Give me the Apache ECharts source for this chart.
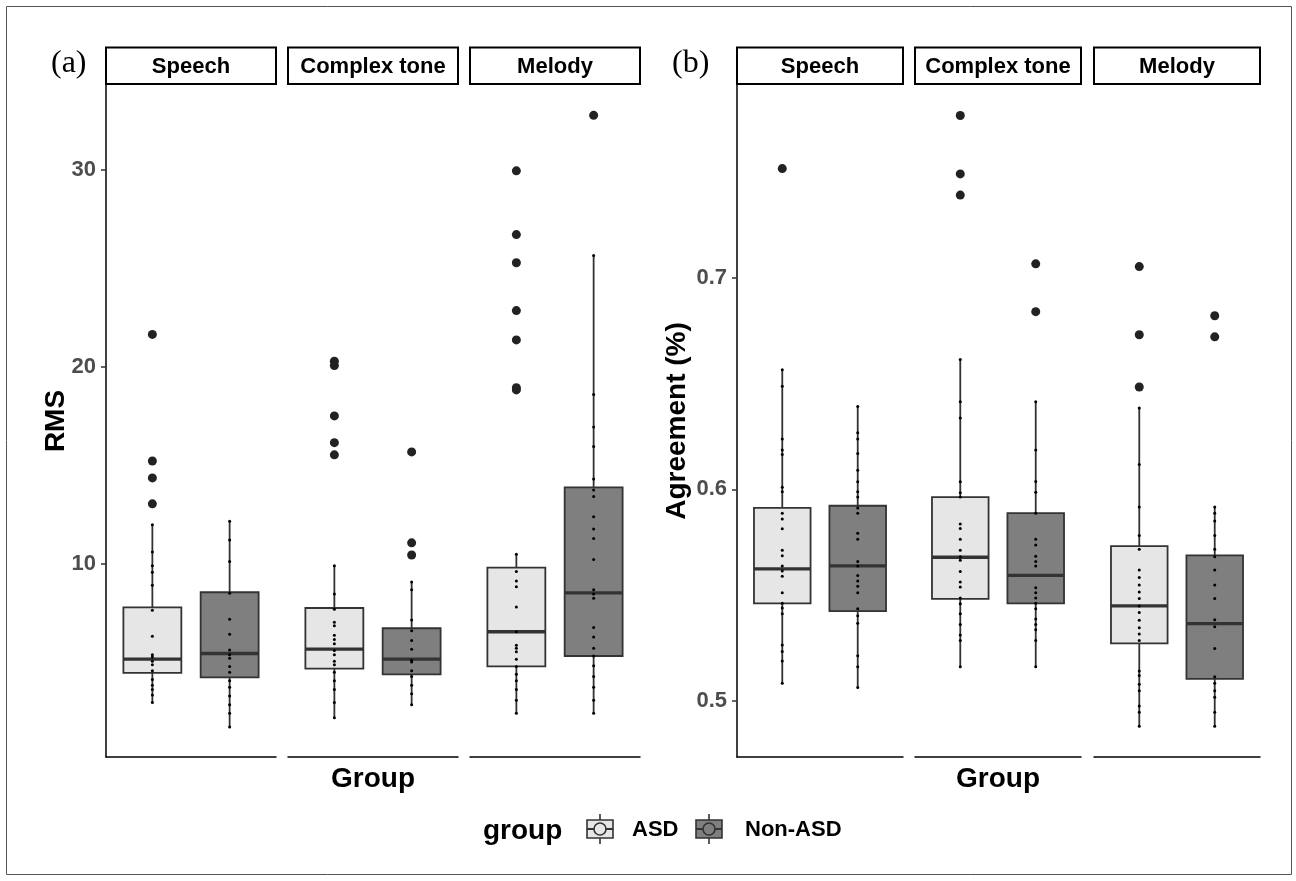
<!DOCTYPE html>
<html><head><meta charset="utf-8">
<script src="https://cdn.jsdelivr.net/npm/echarts@6/dist/echarts.min.js"></script>
<style>html,body{margin:0;padding:0;background:#fff}#c{width:1296px;height:881px}</style>
</head><body><div id="c"></div>
<script>
// ---------- data ----------
const facets = ['Speech', 'Complex tone', 'Melody'];
const groups = ['ASD', 'Non-ASD'];
const groupX = [1, 2];
const rmsTicks = [10, 20, 30];
const agreeTicks = [0.5, 0.6, 0.7];

// box stats per facet: [lower whisker, Q1, median, Q3, upper whisker]
const rmsBoxASD = [[2.95, 4.45, 5.15, 7.78, 11.98], [2.18, 4.67, 5.66, 7.75, 9.89], [2.40, 4.78, 6.54, 9.80, 10.48]];
const rmsBoxNonASD = [[1.70, 4.23, 5.44, 8.55, 12.16], [2.84, 4.38, 5.15, 6.72, 9.07], [2.40, 5.31, 8.52, 13.88, 25.66]];
const rmsOutASD = [[21.65, 15.22, 14.36, 13.04], [20.29, 20.07, 17.51, 16.15, 15.53], [29.96, 26.72, 25.29, 22.86, 21.37, 18.94, 18.83]];
const rmsOutNonASD = [[], [15.68, 11.06, 10.44], [32.78]];
const rmsDotsASD = [
  [11.98, 10.6, 9.89, 9.56, 8.9, 7.64, 6.32, 5.37, 5.26, 5.04, 4.87, 4.56, 4.12, 3.83, 3.61, 3.33, 2.95],
  [9.89, 8.46, 7.69, 7.03, 6.85, 6.37, 6.15, 5.93, 5.59, 5.37, 5.04, 4.87, 4.49, 4.05, 3.61, 2.95, 2.18],
  [10.48, 9.60, 9.12, 8.83, 7.80, 6.54, 5.86, 5.70, 5.53, 5.15, 4.78, 4.38, 4.05, 3.61, 3.06, 2.40]
];
const rmsDotsNonASD = [
  [12.16, 11.2, 10.11, 8.5, 7.18, 6.41, 5.62, 5.37, 5.2, 4.78, 4.49, 4.05, 3.72, 3.28, 2.84, 2.4, 1.70],
  [9.07, 8.68, 7.14, 6.59, 6.10, 5.66, 5.09, 5.0, 4.56, 4.27, 3.83, 3.39, 2.84],
  [25.66, 18.59, 16.94, 15.95, 14.30, 13.74, 13.41, 12.38, 11.76, 11.28, 10.22, 8.68, 8.46, 8.24, 6.76, 6.28, 5.70, 5.31, 4.82, 4.27, 3.72, 3.06, 2.40]
];

const agreeBoxASD = [[0.5083, 0.5461, 0.5624, 0.5912, 0.6565], [0.5161, 0.5482, 0.5679, 0.5963, 0.6613], [0.4880, 0.5272, 0.5449, 0.5731, 0.6384]];
const agreeBoxNonASD = [[0.5063, 0.5424, 0.5638, 0.5922, 0.6391], [0.5161, 0.5461, 0.5593, 0.5887, 0.6413], [0.4880, 0.5104, 0.5365, 0.5688, 0.5916]];
const agreeOutASD = [[0.7515], [0.7766, 0.749, 0.739], [0.7052, 0.673, 0.6483]];
const agreeOutNonASD = [[], [0.7065, 0.6839], [0.682, 0.672]];
const agreeDotsASD = [
  [0.6565, 0.6487, 0.6238, 0.6185, 0.6164, 0.601, 0.5988, 0.5887, 0.586, 0.5813, 0.5712, 0.5686, 0.5638, 0.5614, 0.5589, 0.5511, 0.5461, 0.5439, 0.5412, 0.5264, 0.5233, 0.5188, 0.5083],
  [0.6613, 0.6413, 0.6337, 0.6035, 0.5984, 0.5963, 0.5836, 0.5815, 0.5764, 0.5712, 0.5681, 0.5665, 0.5612, 0.5562, 0.5538, 0.5486, 0.5459, 0.5412, 0.5361, 0.5311, 0.5285, 0.5161],
  [0.6384, 0.6117, 0.5916, 0.5782, 0.5716, 0.5618, 0.5583, 0.5548, 0.5515, 0.5484, 0.5449, 0.5418, 0.5381, 0.5346, 0.5316, 0.5285, 0.5141, 0.512, 0.5079, 0.5048, 0.4976, 0.4946, 0.488]
];
const agreeDotsNonASD = [
  [0.6391, 0.6267, 0.6238, 0.6169, 0.609, 0.6035, 0.5988, 0.5963, 0.5912, 0.5887, 0.5792, 0.5764, 0.5659, 0.5638, 0.5593, 0.5566, 0.5542, 0.5511, 0.5435, 0.5402, 0.5367, 0.5213, 0.5161, 0.5063],
  [0.6413, 0.6185, 0.6037, 0.5986, 0.5887, 0.5764, 0.5737, 0.5683, 0.5659, 0.5638, 0.5535, 0.5511, 0.5486, 0.5461, 0.5435, 0.5387, 0.5361, 0.5336, 0.5285, 0.5161],
  [0.5916, 0.5887, 0.585, 0.5782, 0.5716, 0.5681, 0.5618, 0.5548, 0.5484, 0.5383, 0.535, 0.5248, 0.5114, 0.5083, 0.5048, 0.5017, 0.4946, 0.488]
];

// ---------- layout / style ----------
const FONT = "'Liberation Sans', Arial, sans-serif";
const SERIF = "'Liberation Serif', 'Times New Roman', serif";
const TOP = 85, H = 672;
const fills = ['#e6e6e6', '#7f7f7f'];
const STROKE = '#333333';

const panels = [
  { lefts: [106, 288, 470], width: 170, min: 0.18, max: 34.32, ticks: rmsTicks, title: 'RMS', nameGap: 36,
    box: [rmsBoxASD, rmsBoxNonASD], out: [rmsOutASD, rmsOutNonASD], dots: [rmsDotsASD, rmsDotsNonASD], tag: '(a)', tagX: 51 },
  { lefts: [737, 915, 1094], width: 166, min: 0.4735, max: 0.791, ticks: agreeTicks, title: 'Agreement (%)', nameGap: 46,
    box: [agreeBoxASD, agreeBoxNonASD], out: [agreeOutASD, agreeOutNonASD], dots: [agreeDotsASD, agreeDotsNonASD], tag: '(b)', tagX: 672 }
];

const grid = [], xAxis = [], yAxis = [], series = [], graphic = [];

graphic.push({ type: 'rect', silent: true, shape: { x: 6.5, y: 6.5, width: 1285, height: 868 },
  style: { fill: 'none', stroke: '#555', lineWidth: 1 } });

panels.forEach((p, pi) => {
  graphic.push({ type: 'text', silent: true, style: { text: p.tag, x: p.tagX, y: 64, font: '32px ' + SERIF, fill: '#000', textVerticalAlign: 'middle' } });
  p.lefts.forEach((left, fi) => {
    const gi = pi * 3 + fi;
    grid.push({ left: left, top: TOP, width: p.width, height: H, outerBoundsMode: 'none' });
    xAxis.push({
      gridIndex: gi, type: 'value', min: 0.4, max: 2.6,
      axisLine: { show: true, onZero: false, lineStyle: { color: '#000', width: 1.5 } },
      axisTick: { show: false }, axisLabel: { show: false }, splitLine: { show: false },
      name: fi === 1 ? 'Group' : '', nameLocation: 'middle', nameGap: 8, nameMoveOverlap: false,
      nameTextStyle: { fontFamily: FONT, fontWeight: 'bold', fontSize: 28, color: '#000' }
    });
    yAxis.push({
      gridIndex: gi, type: 'value', min: p.min, max: p.max, show: fi === 0,
      axisLine: { show: true, lineStyle: { color: '#000', width: 1.5 } },
      axisTick: { show: true, length: 5, customValues: p.ticks, lineStyle: { color: '#333', width: 1.5 } },
      axisLabel: { customValues: p.ticks, margin: 10, fontFamily: FONT, fontWeight: 'bold', fontSize: 22, color: '#4d4d4d' },
      splitLine: { show: false },
      name: fi === 0 ? p.title : '', nameLocation: 'middle', nameGap: p.nameGap, nameMoveOverlap: false,
      nameTextStyle: { fontFamily: FONT, fontWeight: 'bold', fontSize: 28, color: '#000' }
    });
    // strip
    graphic.push({ type: 'rect', silent: true, shape: { x: left, y: 47.5, width: p.width, height: 36.5 },
      style: { fill: '#fff', stroke: '#000', lineWidth: 2 } });
    graphic.push({ type: 'text', silent: true, style: { text: facets[fi], x: left + p.width / 2, y: 67,
      font: 'bold 22px ' + FONT, fill: '#000', textAlign: 'center', textVerticalAlign: 'middle' } });

    const boxData = groups.map((g, k) => [groupX[k]].concat(p.box[k][fi]).concat([k]));
    series.push({
      type: 'custom', xAxisIndex: gi, yAxisIndex: gi, z: 2, silent: true,
      encode: { x: 0, y: [1, 2, 3, 4, 5] },
      data: boxData,
      renderItem: function (params, api) {
        const x = api.value(0);
        const lo = api.coord([x, api.value(1)]);
        const q1 = api.coord([x, api.value(2)]);
        const md = api.coord([x, api.value(3)]);
        const q3 = api.coord([x, api.value(4)]);
        const hi = api.coord([x, api.value(5)]);
        const hw = api.size([0.375, 0])[0];
        const k = api.value(6);
        return { type: 'group', children: [
          { type: 'line', shape: { x1: hi[0], y1: hi[1], x2: q3[0], y2: q3[1] }, style: { stroke: STROKE, lineWidth: 1.8 } },
          { type: 'line', shape: { x1: q1[0], y1: q1[1], x2: lo[0], y2: lo[1] }, style: { stroke: STROKE, lineWidth: 1.8 } },
          { type: 'rect', shape: { x: md[0] - hw, y: q3[1], width: 2 * hw, height: q1[1] - q3[1] }, style: { fill: fills[k], stroke: STROKE, lineWidth: 1.8 } },
          { type: 'line', shape: { x1: md[0] - hw, y1: md[1], x2: md[0] + hw, y2: md[1] }, style: { stroke: STROKE, lineWidth: 3.4 } }
        ] };
      }
    });
    const outData = [], dotData = [];
    groups.forEach((g, k) => {
      p.out[k][fi].forEach(v => outData.push([groupX[k], v]));
      p.dots[k][fi].forEach(v => dotData.push([groupX[k], v]));
    });
    series.push({ type: 'scatter', xAxisIndex: gi, yAxisIndex: gi, z: 3, silent: true, symbol: 'circle', symbolSize: 9,
      itemStyle: { color: '#222', opacity: 1 }, data: outData });
    series.push({ type: 'scatter', xAxisIndex: gi, yAxisIndex: gi, z: 4, silent: true, symbol: 'circle', symbolSize: 3,
      itemStyle: { color: '#000', opacity: 1 }, data: dotData });
  });
});

// legend (drawn)
graphic.push({ type: 'text', silent: true, style: { text: 'group', x: 483, y: 831, font: 'bold 28px ' + FONT, fill: '#000', textVerticalAlign: 'middle' } });
function legendKey(x0, fill) {
  const cx = x0 + 14, cy = 829;
  return [
    { type: 'line', silent: true, shape: { x1: cx, y1: 814, x2: cx, y2: 844 }, style: { stroke: STROKE, lineWidth: 1.6 } },
    { type: 'rect', silent: true, shape: { x: x0 + 1, y: 820, width: 26, height: 18 }, style: { fill: fill, stroke: STROKE, lineWidth: 1.6 } },
    { type: 'line', silent: true, shape: { x1: x0 + 1, y1: cy, x2: x0 + 27, y2: cy }, style: { stroke: STROKE, lineWidth: 2 } },
    { type: 'circle', silent: true, shape: { cx: cx, cy: cy, r: 6 }, style: { fill: fill, stroke: STROKE, lineWidth: 1.6 } }
  ];
}
const legendX = [586, 695], legendTextX = [632, 745];
groups.forEach((g, k) => {
  legendKey(legendX[k], fills[k]).forEach(e => graphic.push(e));
  graphic.push({ type: 'text', silent: true, style: { text: g, x: legendTextX[k], y: 830, font: 'bold 22px ' + FONT, fill: '#000', textVerticalAlign: 'middle' } });
});

const chart = echarts.init(document.getElementById('c'));
chart.setOption({ animation: false, backgroundColor: '#fff', grid, xAxis, yAxis, series, graphic });
</script></body></html>
